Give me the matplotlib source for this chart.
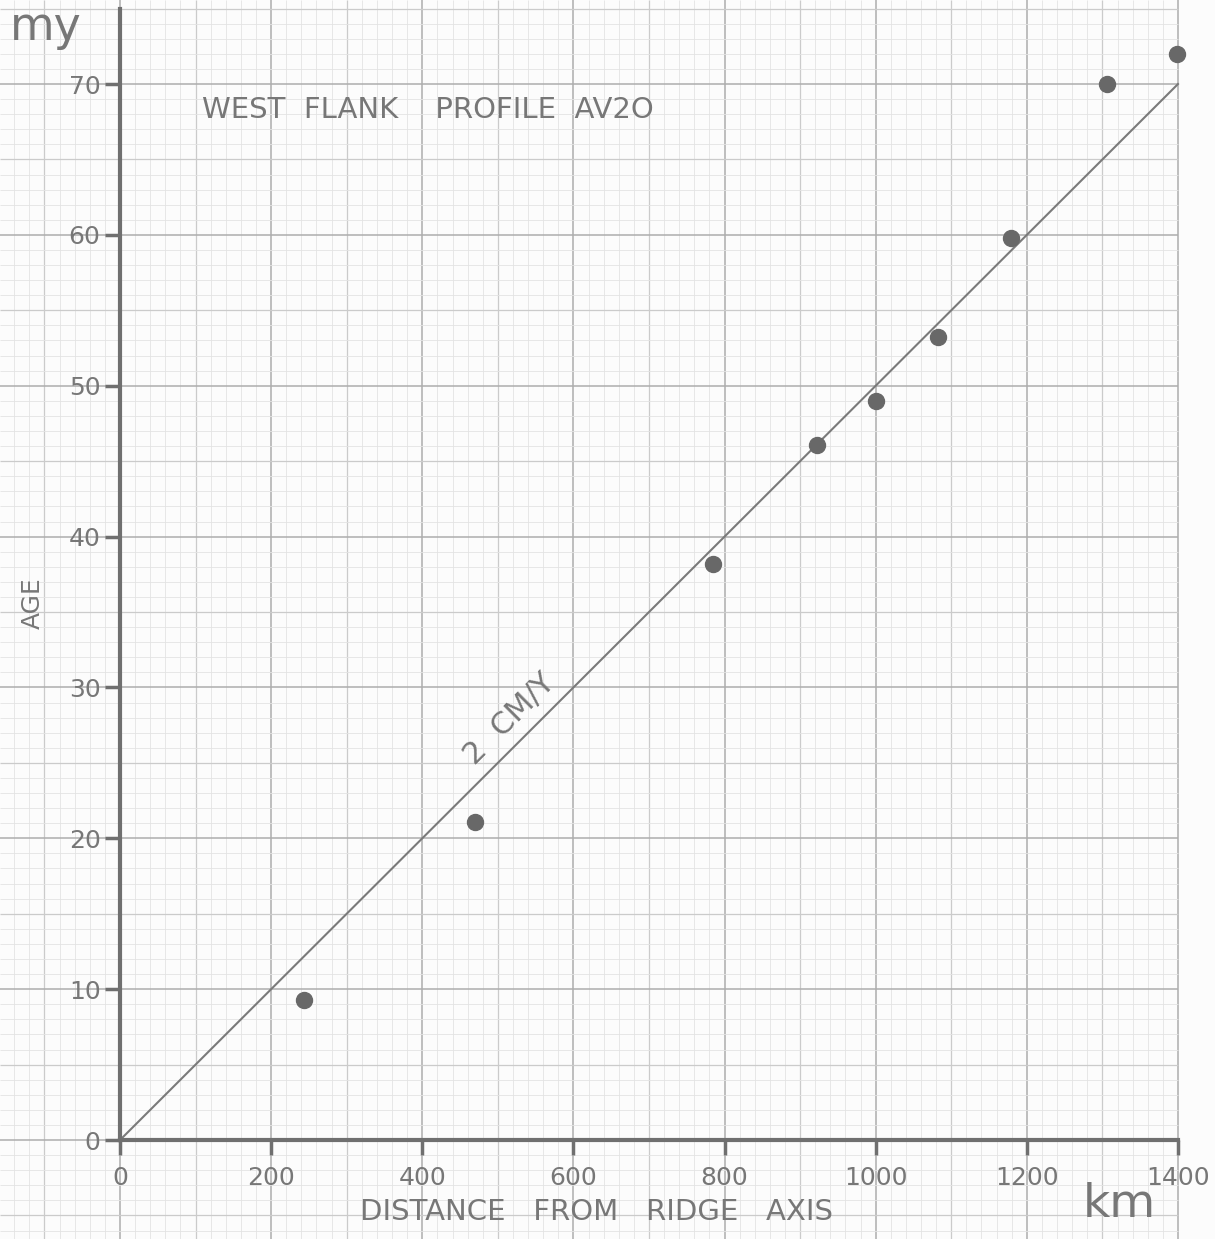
import numpy as np
import matplotlib.pyplot as plt

# distance from ridge axis (km) and age (my)
distance = [243, 470, 785, 922, 1000, 1082, 1179, 1306, 1399]
age = [9.3, 21.1, 38.2, 46.1, 49.0, 53.2, 59.8, 70.0, 72.0]
# 2 cm/y spreading line
fit_x = [0, 1400]
fit_y = [0, 70]

x_ticks = [0, 200, 400, 600, 800, 1000, 1200, 1400]
y_ticks = [0, 10, 20, 30, 40, 50, 60, 70]

ink = '#6f6f6f'
fig = plt.figure(figsize=(12.15, 12.39), dpi=100)
fig.patch.set_facecolor('#fcfcfc')
ax = fig.add_axes([0, 0, 1, 1])
ax.set_facecolor('#fcfcfc')
ax.set_xlim(-158.8, 1449)
ax.set_ylim(-6.56, 75.57)

# graph paper
for gx in np.arange(-140, 1401, 20):
    if gx % 200 == 0:
        c, lw = '#adadad', 1.1
    elif gx % 100 == 0:
        c, lw = '#cbcbcb', 0.9
    else:
        c, lw = '#e3e3e3', 0.6
    ax.vlines(gx, -6.56, 75.57, colors=c, linewidth=lw, zorder=0)
for gy in np.arange(-6, 76, 1):
    if gy % 10 == 0:
        c, lw = '#adadad', 1.1
    elif gy % 5 == 0:
        c, lw = '#cbcbcb', 0.9
    else:
        c, lw = '#e3e3e3', 0.6
    ax.hlines(gy, -158.8, 1400, colors=c, linewidth=lw, zorder=0)

ax.plot(fit_x, fit_y, color='#7a7a7a', linewidth=1.5, zorder=2)
ax.plot(distance, age, 'o', color='#686868', markersize=11.5, zorder=3)

for s in ['top', 'right']:
    ax.spines[s].set_visible(False)
ax.spines['left'].set_position(('data', 0))
ax.spines['bottom'].set_position(('data', 0))
ax.spines['left'].set_bounds(0, 75)
ax.spines['bottom'].set_bounds(0, 1400)
for s in ['left', 'bottom']:
    ax.spines[s].set_color(ink)
    ax.spines[s].set_linewidth(3)
    ax.spines[s].set_zorder(4)

ax.set_xticks(x_ticks)
ax.set_yticks(y_ticks)
ax.set_xticklabels([str(v) for v in x_ticks])
ax.set_yticklabels([str(v) for v in y_ticks])
ax.tick_params(axis='both', direction='out', length=11, width=2.5, color=ink,
               labelcolor='#777777', labelsize=18)
ax.tick_params(axis='x', pad=8)
ax.tick_params(axis='y', pad=3)

tc = '#777777'
ax.text(-146, 72.9, 'my', fontsize=33, color=tc, ha='left', va='baseline')
ax.text(109, 68.25, 'WEST  FLANK    PROFILE  AV2O', fontsize=21, color=tc,
        ha='left', va='center')
ax.text(-116, 35.6, 'AGE', fontsize=18, color=tc, rotation=90,
        ha='center', va='center')
ax.text(630, -4.8, 'DISTANCE   FROM   RIDGE   AXIS', fontsize=21, color=tc,
        ha='center', va='center')
ax.text(1323, -4.3, 'km', fontsize=34, color=tc, ha='center', va='center')
ax.text(516, 27.9, '2  CM/Y', fontsize=22, color=tc, rotation=45,
        ha='center', va='center')

fig.savefig('out.png', dpi=100, facecolor=fig.get_facecolor())
